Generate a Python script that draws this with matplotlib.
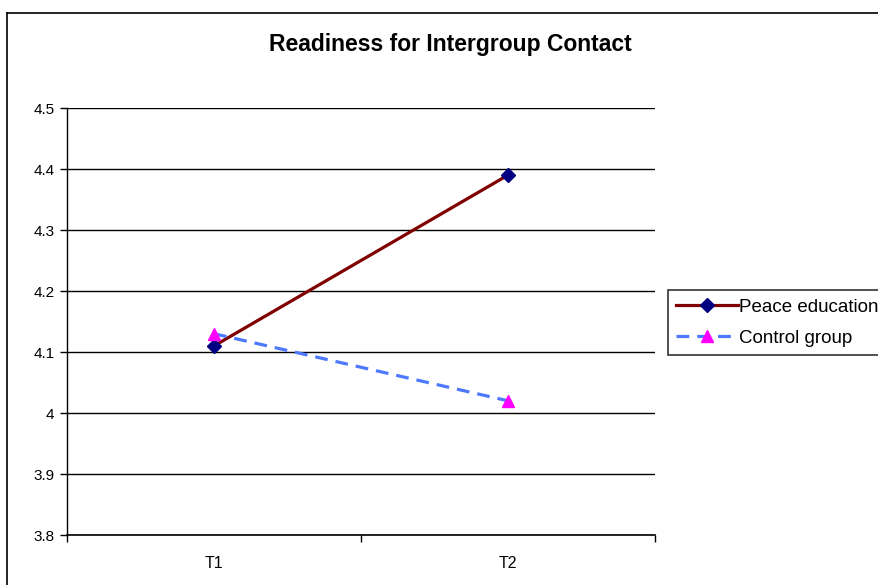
import numpy as np
import matplotlib.pyplot as plt
from matplotlib.lines import Line2D

plt.rcParams['font.family'] = ['Liberation Sans', 'DejaVu Sans']

times = ['T1', 'T2']
peace = [4.11, 4.39]
control = [4.13, 4.02]
yticks = [3.8, 3.9, 4.0, 4.1, 4.2, 4.3, 4.4, 4.5]
ylabels = ['3.8', '3.9', '4', '4.1', '4.2', '4.3', '4.4', '4.5']

fig = plt.figure(figsize=(8.79, 5.85), dpi=100)
ax = fig.add_axes([67 / 879, 1 - 535 / 585, (655 - 67) / 879, (535 - 108) / 585])

x = np.arange(len(times)) + 0.5
ax.plot(x, peace, color='#800000', lw=2.3, marker='D', ms=7,
        mfc='#000080', mec='#000080', label='Peace education', zorder=3)
ax.plot(x, control, color='#4d79ff', lw=2.3, ls=(0, (4, 2.5)), marker='^', ms=9,
        mfc='#ff00ff', mec='#ff00ff', label='Control group', zorder=4)

ax.set_xlim(0, 2)
ax.set_ylim(3.8, 4.5)
ax.set_yticks(yticks)
ax.set_yticklabels(ylabels)
ax.set_xticks(x)
ax.set_xticklabels(times)
ax.set_xticks([0, 1, 2], minor=True)
ax.tick_params(axis='x', which='major', length=0, pad=15, labelsize=11.5)
ax.tick_params(axis='x', which='minor', length=5, direction='out', width=1)
ax.tick_params(axis='y', length=5, direction='out', width=1, labelsize=11, pad=4)
ax.yaxis.grid(True, color='black', lw=1)
ax.set_axisbelow(True)
for side in ['top', 'right']:
    ax.spines[side].set_visible(False)
ax.spines['left'].set_linewidth(1)
ax.spines['bottom'].set_linewidth(1.2)

fig.text(450 / 879, 1 - 45 / 585, 'Readiness for Intergroup Contact',
         ha='center', va='center', fontsize=16.5, fontweight='bold')

# outer chart border, running off the right and bottom edges
fig.add_artist(Line2D([7 / 879, 7 / 879], [0, 1 - 13 / 585], color='black', lw=1.2))
fig.add_artist(Line2D([7 / 879, 1], [1 - 13 / 585, 1 - 13 / 585], color='black', lw=1.2))

leg = fig.legend(loc='upper left', bbox_to_anchor=(668 / 879, 1 - 290 / 585),
                 fontsize=13.5, frameon=True, fancybox=False, handlelength=3.3,
                 handletextpad=0.05, borderaxespad=0, borderpad=0.45, labelspacing=0.75)
leg.get_frame().set_edgecolor('black')
leg.get_frame().set_linewidth(1.2)

fig.savefig('out.png', dpi=100)
